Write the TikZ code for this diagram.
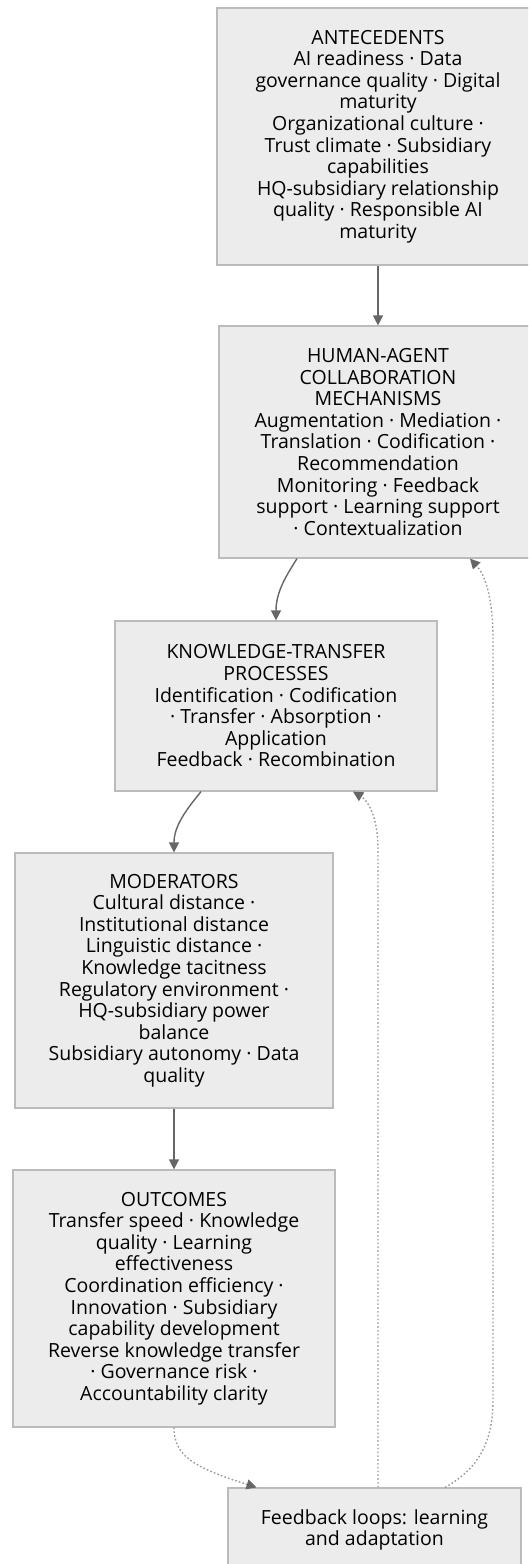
\documentclass[tikz,border=0pt]{standalone}
\usepackage{fontspec}
\setmainfont{Open Sans}
\usetikzlibrary{arrows.meta}
\definecolor{boxfill}{HTML}{ECECEC}
\definecolor{boxline}{HTML}{BBBBBB}
\definecolor{edgecol}{HTML}{666666}
\definecolor{dotcol}{HTML}{999999}
\tikzset{
  box/.style={draw=boxline, fill=boxfill, line width=1.2pt, align=center, inner sep=0pt,
    font=\fontsize{19.5}{21.6}\selectfont, text=black},
  solidedge/.style={draw=edgecol, line width=1.4pt, -{Triangle[length=10pt,width=10pt]}},
  dotedge/.style={draw=dotcol, line width=1.4pt, dash pattern=on 1.6pt off 2.2pt,
    -{Triangle[length=10pt,width=10pt,color=edgecol,fill=edgecol]}},
}
\begin{document}
\begin{tikzpicture}[x=1pt,y=-1pt]
\useasboundingbox (0,0) rectangle (528,1564);
\clip (0,0) rectangle (528,1564);
\node[box, minimum width=322pt, minimum height=257pt] (A) at (378,136.5)
 {ANTECEDENTS\\AI readiness · Data\\governance quality · Digital\\maturity\\Organizational culture ·\\Trust climate · Subsidiary\\capabilities\\HQ-subsidiary relationship\\quality · Responsible AI\\maturity};
\node[box, minimum width=318pt, minimum height=232pt] (B) at (378,442)
 {HUMAN-AGENT\\COLLABORATION\\MECHANISMS\\Augmentation · Mediation ·\\Translation · Codification ·\\Recommendation\\Monitoring · Feedback\\support · Learning support\\· Contextualization};
\node[box, minimum width=322pt, minimum height=170pt] (C) at (276,706)
 {KNOWLEDGE-TRANSFER\\PROCESSES\\Identification · Codification\\· Transfer · Absorption ·\\Application\\Feedback · Recombination};
\node[box, minimum width=318pt, minimum height=255pt] (D) at (174,980.5)
 {MODERATORS\\Cultural distance ·\\Institutional distance\\Linguistic distance ·\\Knowledge tacitness\\Regulatory environment ·\\HQ-subsidiary power\\balance\\Subsidiary autonomy · Data\\quality};
\node[box, minimum width=322pt, minimum height=257pt] (E) at (174,1298.5)
 {OUTCOMES\\Transfer speed · Knowledge\\quality · Learning\\effectiveness\\Coordination efficiency ·\\Innovation · Subsidiary\\capability development\\Reverse knowledge transfer\\· Governance risk ·\\Accountability clarity};
\node[box, minimum width=293pt, minimum height=84pt] (F) at (374.5,1530)
 {Feedback loops: learning\\and adaptation};

\draw[solidedge] (A.south) -- (B.north);
\draw[solidedge] ([xshift=-81pt]B.south) .. controls (286,576) and (276,592) .. (C.north);
\draw[solidedge] ([xshift=-75pt]C.south) .. controls (186,810) and (174,826) .. (D.north);
\draw[solidedge] (D.south) -- (E.north);
\draw[dotedge] (E.south) .. controls (174,1455) and (192,1467) .. ([xshift=-118pt]F.north);
\draw[dotedge] ([xshift=3.5pt]F.north) -- (378,850) .. controls (378,815) and (367,800) .. ([xshift=77pt]C.south);
\draw[dotedge] ([xshift=70.5pt]F.north) .. controls (480,1468) and (493,1440) .. (493,1400) -- (493,640) .. controls (493,600) and (486,576) .. ([xshift=92pt]B.south);
\end{tikzpicture}
\end{document}
